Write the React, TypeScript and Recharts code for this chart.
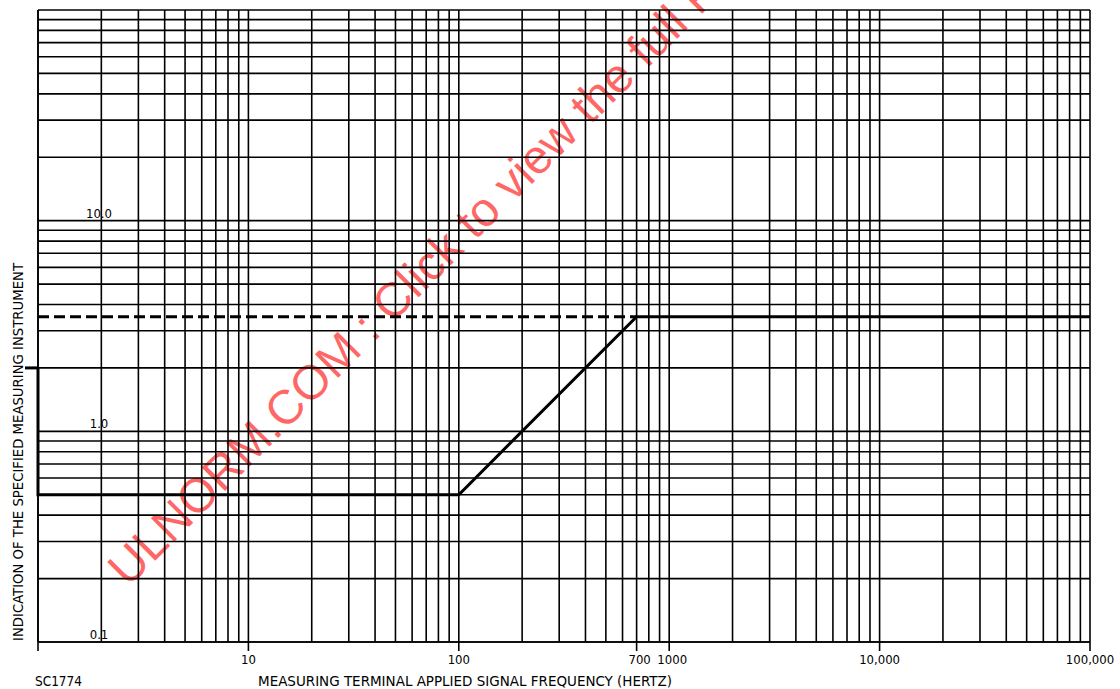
import { LineChart, Line, XAxis, YAxis, CartesianGrid, ReferenceDot } from 'recharts'

// log grid: decades x minor steps
const X_DECADES = [1, 10, 100, 1000, 10000]
const Y_DECADES = [0.1, 1, 10]
const MINOR_STEPS = [1, 2, 3, 4, 5, 6, 7, 8, 9]
const X_MAX = 100000
const Y_MAX = 100

const X_LABELS: Record<string, string> = {
  '1': '',
  '10': '10',
  '100': '100',
  '700': '700',
  '1000': '1000',
  '10000': '10,000',
  '100000': '100,000',
}
const Y_LABELS: Record<string, string> = { '0.1': '0.1', '1': '1.0', '10': '10.0' }

// limit curve (frequency Hz -> indication)
const LIMIT_FREQ = [1, 1, 100, 700, 100000]
const LIMIT_LEVEL = [2, 0.5, 0.5, 3.5, 3.5]
const DASH_FREQ = [1, 700]
const DASH_LEVEL = [3.5, 3.5]

const X_TICKS = [...X_DECADES.flatMap((d) => MINOR_STEPS.map((m) => d * m)), X_MAX]
const Y_TICKS = [...Y_DECADES.flatMap((d) => MINOR_STEPS.map((m) => +(d * m).toPrecision(6))), Y_MAX]

const limitData = LIMIT_FREQ.map((f, i) => ({ f, v: LIMIT_LEVEL[i] }))
const dashData = DASH_FREQ.map((f, i) => ({ f, v: DASH_LEVEL[i] }))

const FONT = '"DejaVu Sans Condensed", "DejaVu Sans", sans-serif'

function FreqTick({ x, y, payload }: any) {
  const label = X_LABELS[String(payload.value)]
  if (label === undefined) return <g />
  const dx = payload.value === 700 || payload.value === 1000 ? 3 : 0
  return (
    <g>
      <line x1={x} x2={x} y1={y} y2={y + 9} stroke="#000" strokeWidth={1.6} />
      {label && (
        <text x={x + dx} y={y + 22} textAnchor="middle" fontFamily={FONT} fontSize={13} fill="#000">
          {label}
        </text>
      )}
    </g>
  )
}

function LevelTick({ x, y, payload }: any) {
  const label = Y_LABELS[String(payload.value)]
  if (!label) return <g />
  return (
    <text x={x + 61} y={y - 3} textAnchor="middle" fontFamily={FONT} fontSize={13} fill="#000">
      {label}
    </text>
  )
}

function SideTick({ cx, cy }: any) {
  return <line x1={cx - 13} x2={cx} y1={cy} y2={cy} stroke="#000" strokeWidth={3} />
}

export default function App() {
  return (
    <div style={{ position: 'absolute', left: 0, top: 0, width: 1120, height: 689, background: '#fff' }}>
      <svg width={1120} height={689} style={{ position: 'absolute', left: 0, top: 0 }}>
        <text
          x={128}
          y={588}
          transform="rotate(-45 128 588)"
          fontFamily='"Liberation Sans", Arial, sans-serif'
          fontSize={48}
          fill="rgba(255,0,0,0.6)"
        >
          ULNORM.COM : Click to view the full PDF
        </text>
        <text
          x={23}
          y={452}
          transform="rotate(-90 23 452)"
          textAnchor="middle"
          fontFamily={FONT}
          fontSize={14}
          textLength={378}
          lengthAdjust="spacingAndGlyphs"
        >
          INDICATION OF THE SPECIFIED MEASURING INSTRUMENT
        </text>
        <text x={35} y={686} fontFamily={FONT} fontSize={14} textLength={47} lengthAdjust="spacingAndGlyphs">
          SC1774
        </text>
        <text x={258} y={686} fontFamily={FONT} fontSize={14} textLength={414} lengthAdjust="spacingAndGlyphs">
          MEASURING TERMINAL APPLIED SIGNAL FREQUENCY (HERTZ)
        </text>
      </svg>
      <div style={{ position: 'absolute', left: 0, top: 0 }}>
        <LineChart width={1120} height={689} margin={{ top: 10, right: 30, left: 0, bottom: 0 }}>
          <CartesianGrid stroke="#000" strokeWidth={1.6} />
          <XAxis
            dataKey="f"
            type="number"
            scale="log"
            domain={[1, X_MAX]}
            ticks={X_TICKS}
            interval={0}
            height={47}
            tickSize={0}
            tickMargin={0}
            tickLine={false}
            axisLine={{ stroke: '#000', strokeWidth: 1.6 }}
            tick={<FreqTick />}
          />
          <YAxis
            type="number"
            scale="log"
            domain={[0.1, Y_MAX]}
            ticks={Y_TICKS}
            interval={0}
            width={38}
            tickSize={0}
            tickMargin={0}
            tickLine={false}
            axisLine={{ stroke: '#000', strokeWidth: 1.6 }}
            tick={<LevelTick />}
          />
          <Line
            data={dashData}
            dataKey="v"
            stroke="#000"
            strokeWidth={3}
            strokeDasharray="11 5"
            dot={false}
            isAnimationActive={false}
          />
          <Line
            data={limitData}
            dataKey="v"
            stroke="#000"
            strokeWidth={3}
            strokeLinejoin="miter"
            dot={false}
            isAnimationActive={false}
          />
          <ReferenceDot x={1} y={2} r={0} shape={<SideTick />} />
        </LineChart>
      </div>
    </div>
  )
}
